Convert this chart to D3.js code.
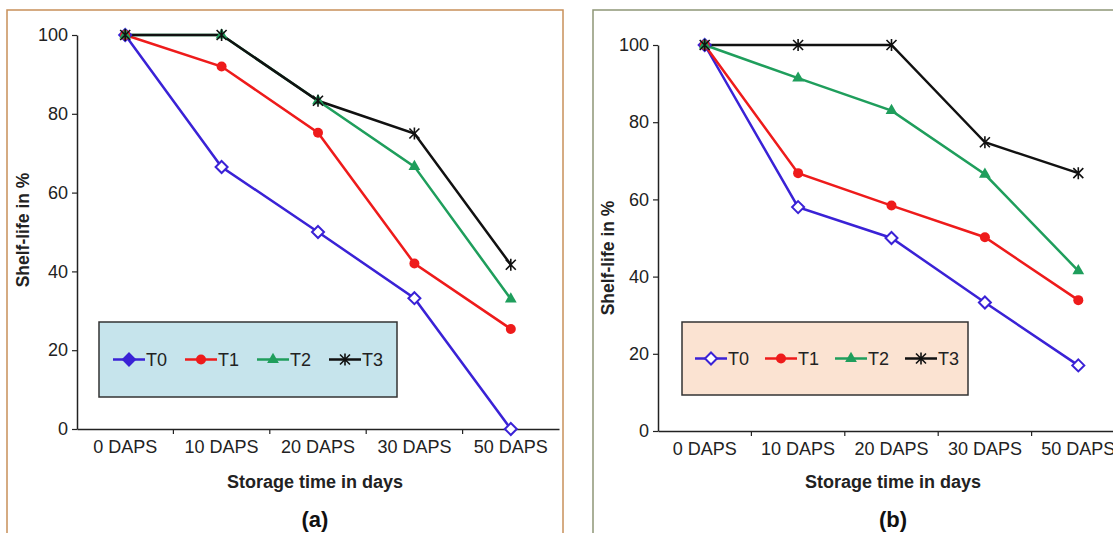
<!DOCTYPE html>
<html>
<head>
<meta charset="utf-8">
<title>Shelf-life</title>
<script src="https://d3js.org/d3.v7.min.js"></script>
<style>
  body { margin: 0; padding: 0; background: #ffffff; font-family: "Liberation Sans", Arial, sans-serif; }
  svg text { font-family: "Liberation Sans", Arial, sans-serif; }
</style>
</head>
<body>
<div id="chart"></div>
<script>
// data
var categories = ["0 DAPS", "10 DAPS", "20 DAPS", "30 DAPS", "50 DAPS"];
var seriesNames = ["T0", "T1", "T2", "T3"];
var yTicks = [0, 20, 40, 60, 80, 100];

var aT0 = [100, 66.5, 50, 33.2, 0];
var aT1 = [100, 92, 75.2, 42, 25.4];
var aT2 = [100, 100, 83.3, 66.6, 33];
var aT3 = [100, 100, 83.3, 75, 41.7];

var bT0 = [100, 58, 50, 33.3, 17];
var bT1 = [100, 66.8, 58.4, 50.2, 33.9];
var bT2 = [100, 91.4, 83, 66.5, 41.5];
var bT3 = [100, 100, 100, 74.8, 66.8];

var colors = ["#3a22d6", "#ee1b1b", "#1f9e5c", "#111111"];
var markers = ["diamond", "circle", "triangle", "star"];

var svg = d3.select("#chart").append("svg")
    .attr("width", 1113)
    .attr("height", 533);

function marker(g, type, cx, cy, color, hollow) {
    if (type == "diamond") {
        var s = 6;
        g.append("path")
            .attr("d", "M" + cx + "," + (cy - s) + "L" + (cx + s) + "," + cy + "L" + cx + "," + (cy + s) + "L" + (cx - s) + "," + cy + "Z")
            .attr("fill", hollow ? "#ffffff" : color)
            .attr("stroke", color)
            .attr("stroke-width", 2);
    } else if (type == "circle") {
        g.append("circle").attr("cx", cx).attr("cy", cy).attr("r", 5).attr("fill", color);
    } else if (type == "triangle") {
        g.append("path")
            .attr("d", d3.symbol().type(d3.symbolTriangle).size(60)())
            .attr("transform", "translate(" + cx + "," + cy + ")")
            .attr("fill", color);
    } else {
        var r = 5;
        g.append("path")
            .attr("d", "M" + (cx - r) + "," + (cy - r) + "L" + (cx + r) + "," + (cy + r) +
                "M" + (cx - r) + "," + (cy + r) + "L" + (cx + r) + "," + (cy - r) +
                "M" + cx + "," + (cy - r - 1) + "L" + cx + "," + (cy + r + 1))
            .attr("stroke", color)
            .attr("stroke-width", 1.6)
            .attr("fill", "none");
    }
}

function drawPanel(p) {
    // frame
    svg.append("rect")
        .attr("x", p.frame[0]).attr("y", p.frame[1])
        .attr("width", p.frame[2]).attr("height", p.frame[3])
        .attr("fill", "#ffffff")
        .attr("stroke", p.frameColor)
        .attr("stroke-width", 1.5);

    var x = d3.scaleBand().domain(categories).range([p.x0, p.x1]).padding(0);
    var y = d3.scaleLinear().domain([0, 100]).range([p.y0, p.y1]);
    var g = svg.append("g");

    // y axis
    var yAxis = g.append("g")
        .attr("transform", "translate(" + p.x0 + ",0)")
        .call(d3.axisLeft(y).tickValues(yTicks).tickSize(5).tickSizeOuter(0).tickPadding(4));
    yAxis.selectAll("text").attr("font-size", 18).attr("fill", "#222");

    // x axis
    var xAxis = g.append("g")
        .attr("transform", "translate(0," + p.y0 + ")")
        .call(d3.axisBottom(x).tickSize(0).tickSizeOuter(0).tickPadding(11));
    xAxis.selectAll("text").attr("font-size", 18).attr("fill", "#222");
    xAxis.selectAll("path.domain").attr("stroke", "#222").attr("stroke-width", 1.5);
    yAxis.selectAll("path.domain").attr("stroke", "#222").attr("stroke-width", 1.5);
    yAxis.selectAll("line").attr("stroke", "#222").attr("stroke-width", 1.2);

    g.selectAll(".xt")
        .data(categories.slice(1))
        .enter().append("line")
        .attr("x1", function (d) { return x(d); })
        .attr("x2", function (d) { return x(d); })
        .attr("y1", p.y0).attr("y2", p.y0 + 5)
        .attr("stroke", "#222").attr("stroke-width", 1.2);

    // axis titles
    g.append("text")
        .attr("transform", "translate(" + p.yTitleX + "," + p.yTitleY + ") rotate(-90)")
        .attr("text-anchor", "middle")
        .attr("font-size", 17.5).attr("font-weight", "bold").attr("fill", "#222")
        .text("Shelf-life in %");
    g.append("text")
        .attr("x", p.titleX).attr("y", 488)
        .attr("text-anchor", "middle")
        .attr("font-size", 18).attr("font-weight", "bold").attr("fill", "#222")
        .text("Storage time in days");
    g.append("text")
        .attr("x", p.titleX).attr("y", 527)
        .attr("text-anchor", "middle")
        .attr("font-size", 22).attr("font-weight", "bold").attr("fill", "#111")
        .text(p.label);

    // legend box
    g.append("rect")
        .attr("x", p.legend[0]).attr("y", p.legend[1])
        .attr("width", p.legend[2]).attr("height", p.legend[3])
        .attr("fill", p.legendFill)
        .attr("stroke", "#333").attr("stroke-width", 1.5);

    var line = d3.line()
        .x(function (d, i) { return x(categories[i]) + x.bandwidth() / 2; })
        .y(function (d) { return y(d); });

    p.series.forEach(function (vals, s) {
        g.append("path")
            .datum(vals)
            .attr("d", line)
            .attr("fill", "none")
            .attr("stroke", colors[s])
            .attr("stroke-width", 2.5);
    });
    p.series.forEach(function (vals, s) {
        vals.forEach(function (v, i) {
            marker(g, markers[s], x(categories[i]) + x.bandwidth() / 2, y(v), colors[s], s == 0);
        });
    });

    // legend items
    var ly = p.legend[1] + p.legend[3] / 2;
    seriesNames.forEach(function (name, s) {
        var lx = p.legendItemX + s * p.legendStep;
        g.append("line")
            .attr("x1", lx).attr("x2", lx + 32)
            .attr("y1", ly).attr("y2", ly)
            .attr("stroke", colors[s]).attr("stroke-width", 2.5);
        marker(g, markers[s], lx + 16, ly, colors[s], p.legendHollow && s == 0);
        g.append("text")
            .attr("x", lx + 33).attr("y", ly + 6.5)
            .attr("font-size", 18).attr("fill", "#222")
            .text(name);
    });
}

drawPanel({
    frame: [7, 10, 556, 540], frameColor: "#c8905a",
    x0: 77, x1: 559, y0: 429, y1: 35,
    yTitleX: 29, yTitleY: 230, titleX: 315, label: "(a)",
    legend: [99, 322, 298, 75], legendFill: "#c6e4ec",
    legendItemX: 113, legendStep: 72, legendHollow: false,
    series: [aT0, aT1, aT2, aT3]
});

drawPanel({
    frame: [593, 10, 540, 540], frameColor: "#8e9677",
    x0: 658, x1: 1125, y0: 431, y1: 45,
    yTitleX: 614, yTitleY: 258, titleX: 893, label: "(b)",
    legend: [682, 322, 286, 73], legendFill: "#fbe3d2",
    legendItemX: 695, legendStep: 70, legendHollow: true,
    series: [bT0, bT1, bT2, bT3]
});
</script>
</body>
</html>
